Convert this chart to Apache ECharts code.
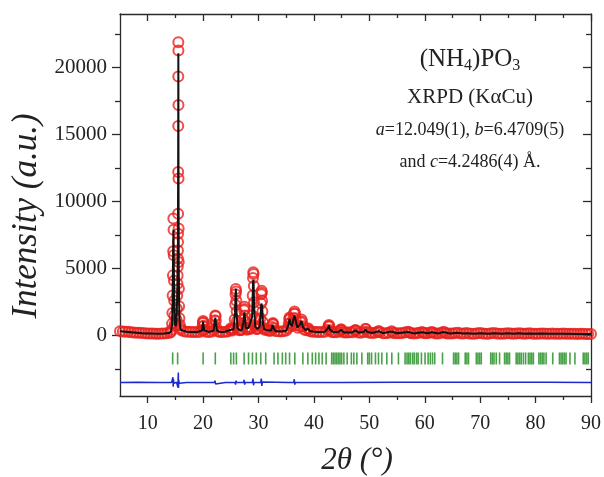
<!DOCTYPE html>
<html>
<head>
<meta charset="utf-8">
<script src="https://cdn.jsdelivr.net/npm/echarts@6/dist/echarts.min.js"></script>
<style>html,body{margin:0;padding:0;background:#fff;}#c{width:604px;height:477px;}</style>
</head>
<body>
<div id="c"></div>
<script>
// ---- data ----
const xMajorTicks = [10, 20, 30, 40, 50, 60, 70, 80, 90];
const xMinorTicks = [15, 25, 35, 45, 55, 65, 75, 85];
const yMajorTicks = [0, 5000, 10000, 15000, 20000];
const yMinorTicks = [-2500, 2500, 7500, 12500, 17500, 22500];

// observed intensities [2theta, I]
const observed = [
[5.0,340],[5.5,320],[6.0,300],[6.5,285],[7.0,260],[7.5,245],[8.0,225],[8.5,210],[9.0,195],[9.5,180],
[10.0,170],[10.5,165],[11.0,155],[11.5,150],[12.0,150],[12.5,155],[13.0,160],[13.5,175],[14.0,220],
[14.2,300],[14.3,450],[14.4,900],[14.45,1700],[14.5,3000],[14.55,4500],[14.6,6300],[14.63,8750],[14.66,7900],
[14.7,6000],[14.74,4100],[14.78,2600],[14.83,1500],[14.9,900],[15.0,700],[15.1,800],[15.2,1200],[15.28,2000],
[15.33,3000],[15.37,3870],[15.4,4490],[15.42,5140],[15.44,5760],[15.46,6360],[15.47,6990],[15.48,7600],
[15.49,9100],[15.5,12220],[15.51,15640],[15.52,19330],[15.53,21900],[15.54,21270],[15.55,17210],[15.56,11720],
[15.58,8000],[15.6,5500],[15.63,3500],[15.67,2200],[15.72,1300],[15.8,800],[15.9,550],[16.0,420],[16.5,330],
[17.0,300],[17.5,290],[18.0,280],[18.5,275],[19.0,270],[19.5,290],
[19.8,400],[19.9,700],[19.95,950],[20.0,1100],[20.05,1000],[20.1,750],[20.2,420],[20.5,300],[21.0,280],[21.5,290],[21.9,400],
[22.0,700],[22.1,1150],[22.2,1500],[22.25,1450],[22.3,1100],[22.4,600],[22.6,330],[23.0,280],[23.5,280],[24.0,290],
[24.5,320],[24.9,450],[25.0,550],[25.1,450],[25.3,380],[25.5,500],[25.7,1200],
[25.8,2300],[25.85,3100],[25.9,3490],[25.95,3300],[26.0,2600],[26.05,1800],[26.1,1100],[26.2,600],[26.4,450],[26.6,400],
[26.8,420],[27.0,450],[27.2,700],
[27.3,1200],[27.4,1900],[27.45,2150],[27.5,2000],[27.55,1500],[27.6,1000],[27.7,600],[27.9,450],[28.1,500],[28.2,600],
[28.5,500],[28.7,600],[28.85,1500],
[28.95,3000],[29.0,4300],[29.05,4740],[29.1,4600],[29.15,3700],[29.2,2500],[29.3,1300],[29.4,700],[29.6,500],[29.8,500],
[30.0,550],[30.2,700],[30.35,1300],
[30.45,2400],[30.5,3100],[30.55,3350],[30.6,3200],[30.65,2600],[30.7,1800],[30.8,1000],[30.9,600],[31.1,450],[31.3,500],
[31.6,400],[32.0,350],[32.3,400],[32.45,650],
[32.55,850],[32.6,950],[32.65,850],[32.75,550],[33.0,350],[33.5,330],[34.0,320],[34.5,330],[35.0,380],[35.3,550],[35.45,900],
[35.55,1250],[35.6,1350],[35.65,1250],[35.75,900],[35.9,700],[36.1,800],[36.3,1300],
[36.4,1650],[36.5,1800],[36.6,1650],[36.7,1300],[36.85,800],[37.1,600],[37.4,700],[37.6,1000],[37.75,1200],[37.85,1050],
[38.0,700],[38.3,450],[38.7,400],[38.9,550],[39.0,500],[39.3,350],[39.5,320],[40.0,300],[40.5,280],[41.0,270],[41.5,270],
[42.0,300],[42.4,450],[42.6,700],[42.7,800],[42.8,700],[42.95,400],[43.2,280],[43.5,260],[44.0,260],[44.5,300],[44.8,420],
[44.9,480],[45.0,430],[45.2,300],[45.5,240],[46.0,230],[46.5,250],[47.0,260],[47.4,380],[47.5,420],[47.6,370],[48.0,230],
[48.5,220],[49.0,280],[49.3,520],[49.4,480],[49.6,300],[50.0,210],[50.5,200],[51.0,210],[51.5,280],[51.7,350],[51.9,250],
[52.5,190],[53.0,190],[53.5,220],[54.0,330],[54.2,260],[54.5,190],[55.0,180],[55.5,180],[56.0,200],[56.5,260],[57.0,300],
[57.3,230],[57.5,180],[58.0,170],[58.5,180],[59.0,210],[59.5,280],[59.8,220],[60.0,180],[60.5,180],[61.0,240],[61.3,280],
[61.6,210],[62.0,170],[62.5,170],[63.0,220],[63.4,300],[63.7,220],[64.0,170],[64.5,160],[65.0,160],[65.5,200],[66.0,220],
[66.5,170],[67.0,160],[67.5,200],[68.0,170],[68.5,150],[69.0,150],[69.5,190],[70.0,200],[70.5,160],[71.0,150],[71.5,150],
[72.0,180],[72.5,200],[73.0,170],[73.5,150],[74.0,150],[74.5,170],[75.0,190],[75.5,160],[76.0,150],[76.5,160],[77.0,190],
[77.5,170],[78.0,150],[78.5,170],[79.0,180],[79.5,150],[80.0,140],[80.5,150],[81.0,170],[81.5,160],[82.0,140],[82.5,140],
[83.0,160],[83.5,150],[84.0,140],[84.5,150],[85.0,160],[85.5,140],[86.0,140],[86.5,150],[87.0,140],[87.5,130],[88.0,140],
[88.5,140],[89.0,130],[89.5,130],[90.0,130]
];

// calculated profile [2theta, I]
const calculated = [
[5,330],[6,295],[7,255],[8,220],[9,190],[10,170],[11,155],[12,150],[13,160],[13.8,200],[14.2,290],[14.4,850],[14.5,2800],
[14.58,6000],[14.64,7900],[14.7,5800],[14.78,2500],[14.9,900],[15.05,700],[15.2,1100],[15.35,3300],[15.45,6500],[15.5,14000],
[15.53,21080],[15.56,12000],[15.6,5300],[15.7,1600],[15.85,650],[16,420],[17,300],[18,280],[19,270],[19.8,380],[19.95,900],
[20.0,1050],[20.05,950],[20.2,400],[21,280],[21.9,380],[22.1,1050],[22.2,1350],[22.3,1000],[22.5,380],[23,280],[24,290],
[24.9,430],[25.0,520],[25.15,420],[25.5,480],[25.75,1700],[25.85,3000],[25.9,3490],[25.95,3100],[26.05,1700],[26.2,580],
[26.6,400],[27,440],[27.3,1100],[27.45,1750],[27.55,1350],[27.7,580],[28,460],[28.2,580],[28.5,490],[28.85,1400],[29.0,3900],
[29.06,4170],[29.12,3800],[29.25,1800],[29.4,680],[29.8,500],[30.2,680],[30.4,1600],[30.5,2400],[30.57,2500],[30.65,2200],
[30.8,950],[31.0,500],[31.6,400],[32.3,390],[32.5,800],[32.6,900],[32.7,750],[33,350],[34,320],[35,370],[35.45,850],
[35.6,1250],[35.75,850],[36.0,700],[36.3,1200],[36.5,1500],[36.7,1150],[37.0,600],[37.5,850],[37.75,1100],[38.0,650],
[38.5,420],[38.9,520],[39.3,350],[40,300],[41,270],[42,300],[42.5,550],[42.7,750],[42.9,450],[43.5,260],[44.5,300],
[44.9,450],[45.3,260],[46,230],[47,260],[47.5,400],[48,230],[49,270],[49.3,480],[49.6,290],[50.5,200],[51.7,330],[52.5,190],
[54,310],[55,180],[57,280],[58,170],[59.5,260],[60.5,180],[61.3,260],[62.5,170],[63.4,280],[64.5,160],[66,210],[67,160],
[67.5,190],[69,150],[70,190],[71.5,150],[72.5,190],[74,150],[75,180],[76,150],[77,180],[78,150],[79,170],[80,140],[81,160],
[82.5,140],[83,150],[85,150],[87.5,130],[90,130]
];

// difference curve (offset below the pattern) [2theta, I]
const difference = [
[5,-3500],[8,-3480],[12,-3490],[14.3,-3500],[14.45,-3420],[14.55,-3100],[14.6,-3800],[14.66,-3250],[14.72,-3550],[14.8,-3500],
[15.2,-3480],[15.35,-3380],[15.45,-3850],[15.5,-3000],[15.53,-2750],[15.56,-3900],[15.6,-3300],[15.7,-3550],[15.85,-3500],
[17,-3490],[19.85,-3500],[19.95,-3400],[20.05,-3620],[20.15,-3500],[22.05,-3500],[22.15,-3350],[22.25,-3600],[22.35,-3500],
[24,-3490],[25.75,-3500],[25.85,-3650],[25.95,-3350],[26.05,-3500],[27.3,-3500],[27.4,-3300],[27.5,-3650],[27.6,-3500],
[28.9,-3500],[29.0,-3200],[29.1,-3700],[29.2,-3500],[30.4,-3500],[30.5,-3200],[30.6,-3750],[30.7,-3450],[30.8,-3500],
[35.5,-3500],[35.6,-3430],[35.7,-3520],[36.35,-3500],[36.45,-3250],[36.55,-3650],[36.65,-3500],[37.7,-3500],[37.8,-3420],
[37.9,-3540],[38,-3500],[45,-3490],[55,-3480],[65,-3470],[75,-3470],[82,-3480],[90,-3500]
];

// Bragg reflection positions (2theta)
const braggPositions = [
14.5,15.4,20.0,22.2,25.0,25.5,26.0,27.4,28.2,28.9,29.6,30.4,31.3,32.8,33.5,34.3,34.9,35.6,36.55,38.0,38.9,39.7,40.3,40.9,
41.5,42.2,43.2,43.5,43.8,44.1,44.4,44.7,45.0,45.4,46.0,46.75,47.2,47.75,48.65,49.7,50.0,50.4,51.1,51.65,52.25,53.15,54.05,
55.25,56.45,56.8,57.1,57.4,57.8,58.1,58.5,58.8,59.4,60.05,60.6,61.0,61.4,61.8,63.2,65.2,65.5,65.8,66.1,67.3,67.6,67.9,69.3,
69.6,69.9,70.2,71.9,72.2,72.5,72.9,73.5,74.4,74.7,75.0,75.3,76.5,76.8,77.1,77.4,77.8,78.2,78.7,79.0,79.3,79.6,80.6,80.9,
81.2,81.5,81.9,83.1,84.3,84.6,84.9,85.2,85.5,86.2,87.1,88.6,88.9,89.2,89.5
];
const braggLevel = -1700;

// ---- chart ----
const SERIF = "'Liberation Serif','DejaVu Serif',serif";
const AX = '#2a2a2a';
const chart = echarts.init(document.getElementById('c'), null, {renderer: 'canvas'});

function xAx(pos, vals, len, inside, labels, line) {
  return {
    type: 'value', min: 5, max: 90, position: pos,
    axisLine: {show: line, onZero: false, lineStyle: {color: AX, width: 1.3}},
    axisTick: {show: true, inside: inside, length: len, customValues: vals, lineStyle: {color: AX, width: 1.3}},
    axisLabel: labels ? {show: true, customValues: vals, formatter: v => String(v), fontFamily: SERIF, fontSize: 20, color: '#222', margin: 18} : {show: false},
    splitLine: {show: false}
  };
}
function yAx(pos, vals, len, inside, labels, line) {
  return {
    type: 'value', min: -4500, max: 24000, position: pos,
    axisLine: {show: line, onZero: false, lineStyle: {color: AX, width: 1.3}},
    axisTick: {show: true, inside: inside, length: len, customValues: vals, lineStyle: {color: AX, width: 1.3}},
    axisLabel: labels ? {show: true, customValues: vals, formatter: v => String(v), fontFamily: SERIF, fontSize: 21, color: '#222', margin: 13} : {show: false},
    splitLine: {show: false}
  };
}

chart.setOption({
  animation: false,
  backgroundColor: '#fff',
  grid: {left: 120, right: 12, top: 14, bottom: 81, containLabel: false},
  xAxis: [
    xAx('bottom', xMajorTicks, 7, false, true, true),
    xAx('bottom', xMinorTicks, 4, false, false, false),
    xAx('top', xMajorTicks, 7, true, false, true),
    xAx('top', xMinorTicks, 4, true, false, false)
  ],
  yAxis: [
    yAx('left', yMajorTicks, 8, false, true, true),
    yAx('left', yMinorTicks, 5, false, false, false),
    yAx('right', yMajorTicks, 8, true, false, true),
    yAx('right', yMinorTicks, 5, true, false, false)
  ],
  series: [
    {
      type: 'scatter', name: 'obs', data: observed, symbol: 'circle', symbolSize: 10,
      itemStyle: {color: 'rgba(0,0,0,0)', borderColor: '#e8221e', borderWidth: 2},
      silent: true, z: 2
    },
    {
      type: 'line', name: 'calc', data: calculated, showSymbol: false, symbol: 'none',
      lineStyle: {color: '#111', width: 2}, silent: true, z: 3
    },
    {
      type: 'scatter', name: 'bragg', data: braggPositions.map(p => [p, braggLevel]),
      symbol: 'rect', symbolSize: [1.6, 12], itemStyle: {color: '#1b8a1b'}, silent: true, z: 2
    },
    {
      type: 'line', name: 'diff', data: difference, showSymbol: false, symbol: 'none',
      lineStyle: {color: '#1a2ad0', width: 1.5}, silent: true, z: 2
    }
  ],
  graphic: [
    {type: 'text', x: 27, y: 216, rotation: Math.PI / 2,
     style: {text: 'Intensity (a.u.)', font: 'italic 35px ' + SERIF, fill: '#222', align: 'center', verticalAlign: 'middle'}},
    {type: 'text', x: 357, y: 461,
     style: {text: '2θ (°)', font: 'italic 31px ' + SERIF, fill: '#222', align: 'center', verticalAlign: 'middle'}},
    {type: 'text', x: 470, y: 59,
     style: {text: '{n|(NH}{s|4}{n|)PO}{s|3}', align: 'center', verticalAlign: 'middle', fill: '#222',
       rich: {n: {fontFamily: SERIF, fontSize: 25, lineHeight: 30, verticalAlign: 'middle', fill: '#222'},
              s: {fontFamily: SERIF, fontSize: 16, lineHeight: 30, verticalAlign: 'bottom', padding: [14, 0, 0, 0], fill: '#222'}}}},
    {type: 'text', x: 470, y: 97,
     style: {text: 'XRPD (KαCu)', font: '21px ' + SERIF, fill: '#222', align: 'center', verticalAlign: 'middle'}},
    {type: 'text', x: 470, y: 130,
     style: {text: '{i|a}{r|=12.049(1), }{i|b}{r|=6.4709(5)}', align: 'center', verticalAlign: 'middle',
       rich: {i: {fontFamily: SERIF, fontStyle: 'italic', fontSize: 18, fill: '#222'}, r: {fontFamily: SERIF, fontSize: 18, fill: '#222'}}}},
    {type: 'text', x: 470, y: 162,
     style: {text: '{r|and }{i|c}{r|=4.2486(4) Å.}', align: 'center', verticalAlign: 'middle',
       rich: {i: {fontFamily: SERIF, fontStyle: 'italic', fontSize: 18, fill: '#222'}, r: {fontFamily: SERIF, fontSize: 18, fill: '#222'}}}}
  ]
});
</script>
</body>
</html>
